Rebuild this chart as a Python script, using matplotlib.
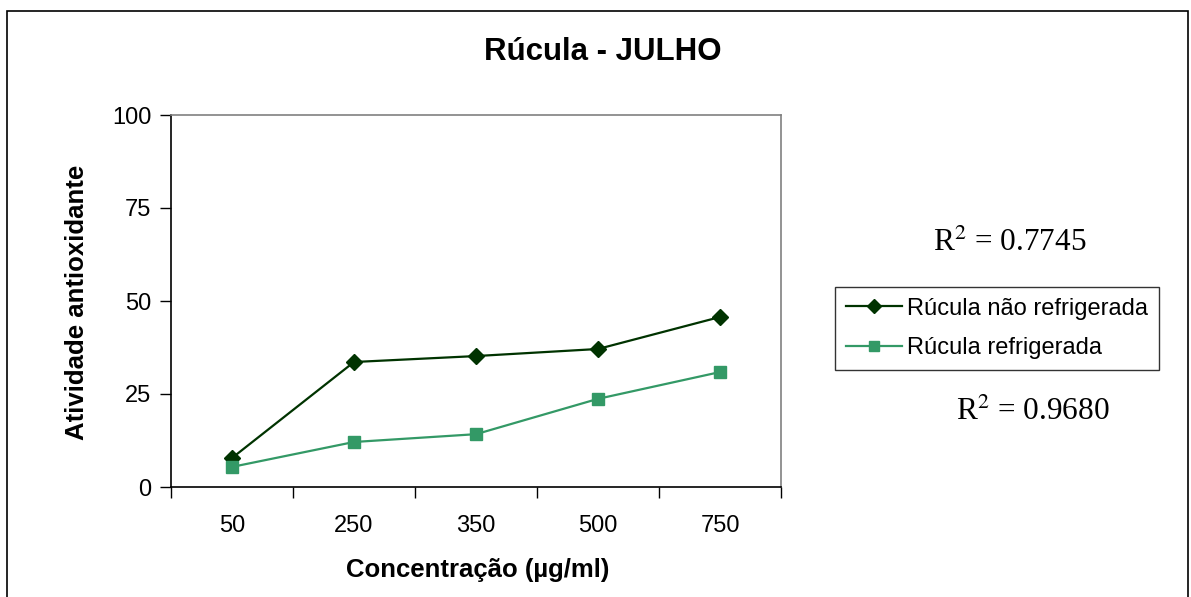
import matplotlib
matplotlib.use("Agg")
import matplotlib.pyplot as plt
from matplotlib.patches import Rectangle

categories = ["50", "250", "350", "500", "750"]
nao_refrigerada = [7.8, 33.6, 35.2, 37.1, 45.7]
refrigerada = [5.4, 12.1, 14.2, 23.7, 30.9]
y_ticks = [0, 25, 50, 75, 100]

plt.rcParams['font.family'] = ['Liberation Sans', 'DejaVu Sans']

W, H = 1191, 597
fig = plt.figure(figsize=(W / 100, H / 100), dpi=100)
fig.patch.set_facecolor("white")

# outer frame
fig.patches.append(Rectangle((7 / W, -0.02), 1181 / W, 1 - 11 / H + 0.02,
                             transform=fig.transFigure, fill=False,
                             edgecolor="black", linewidth=1.2))

ax = fig.add_axes([171 / W, 1 - 487 / H, 610 / W, 372 / H])
x = list(range(len(categories)))
ax.plot(x, nao_refrigerada, color="#003300", marker="D", markersize=8,
        linewidth=1.6, label="Rúcula não refrigerada")
ax.plot(x, refrigerada, color="#339966", marker="s", markersize=8,
        linewidth=1.6, label="Rúcula refrigerada")

ax.set_xlim(-0.5, len(categories) - 0.5)
ax.set_ylim(0, 100)
ax.set_yticks(y_ticks)
ax.set_yticklabels([str(v) for v in y_ticks], fontsize=17)
ax.set_xticks([i - 0.5 for i in range(len(categories) + 1)], minor=False)
ax.set_xticklabels([])
ax.set_xticks(x, minor=True)
ax.set_xticklabels(categories, minor=True, fontsize=17)
ax.tick_params(axis="x", which="minor", length=0, pad=20)
ax.tick_params(axis="x", which="major", direction="out", length=8, width=1)
ax.tick_params(axis="y", direction="out", length=8, width=1, pad=6)

for s in ["left", "bottom"]:
    ax.spines[s].set_color("black")
    ax.spines[s].set_linewidth(1.2)
for s in ["top", "right"]:
    ax.spines[s].set_color("#808080")
    ax.spines[s].set_linewidth(1.2)

fig.text(603 / W, 1 - 52 / H, "Rúcula - JULHO", fontsize=22.5, fontweight="bold",
         ha="center", va="center")
fig.text(478 / W, 1 - 570 / H, "Concentração (µg/ml)", fontsize=18.5,
         fontweight="bold", ha="center", va="center")
fig.text(77 / W, 1 - 302 / H, "Atividade antioxidante", fontsize=18.5,
         fontweight="bold", ha="center", va="center", rotation=90)

serif = ['Liberation Serif', 'DejaVu Serif']
fig.text(1010 / W, 1 - 243 / H, r"R$^{2}$ = 0.7745", fontsize=22.5, family=serif,
         ha="center", va="center", math_fontfamily="stix")
fig.text(1033 / W, 1 - 412 / H, r"R$^{2}$ = 0.9680", fontsize=22.5, family=serif,
         ha="center", va="center", math_fontfamily="stix")

leg = fig.legend(loc="upper left", bbox_to_anchor=(835 / W, 1 - 287 / H),
                 fontsize=17, frameon=True, fancybox=False, handlelength=2.4,
                 handletextpad=0.2, borderpad=0.45, labelspacing=0.75,
                 borderaxespad=0, markerscale=0.9)
leg.get_frame().set_edgecolor("black")
leg.get_frame().set_linewidth(1.0)

fig.savefig("out.png", dpi=100)
